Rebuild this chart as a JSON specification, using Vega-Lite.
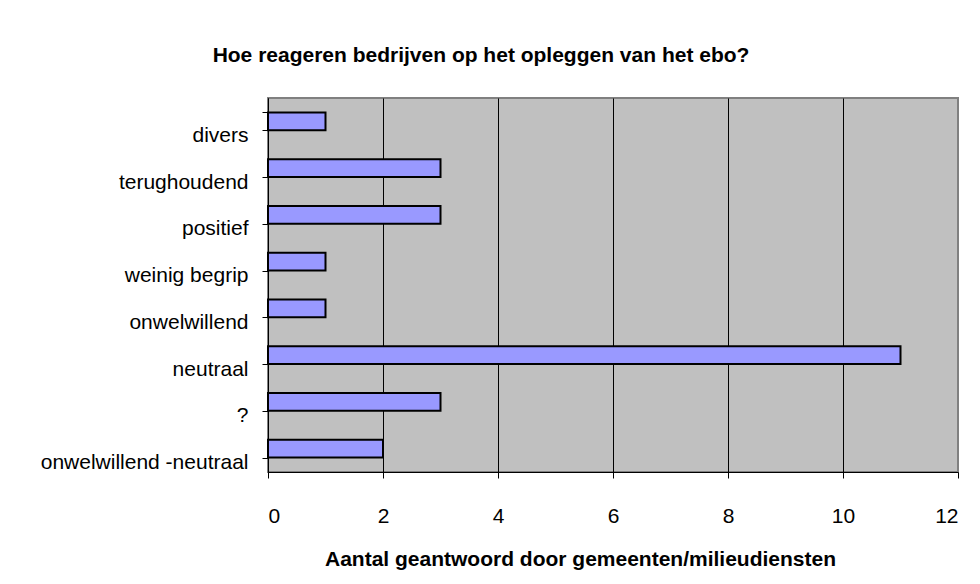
{
  "$schema": "https://vega.github.io/schema/vega-lite/v6.json",
  "autosize": "none",
  "width": 690,
  "height": 374,
  "padding": {"left": 268, "top": 98, "right": 22, "bottom": 112},
  "background": "white",
  "title": {
    "text": "Hoe reageren bedrijven op het opleggen van het ebo?",
    "font": "Liberation Sans",
    "fontSize": 21,
    "fontWeight": "bold",
    "color": "black",
    "anchor": "middle",
    "frame": "group",
    "dx": -132,
    "dy": 31,
    "baseline": "alphabetic",
    "offset": 35
  },
  "data": {
    "values": [
      {"reactie": "divers", "aantal": 1},
      {"reactie": "terughoudend", "aantal": 3},
      {"reactie": "positief", "aantal": 3},
      {"reactie": "weinig begrip", "aantal": 1},
      {"reactie": "onwelwillend", "aantal": 1},
      {"reactie": "neutraal", "aantal": 11},
      {"reactie": "?", "aantal": 3},
      {"reactie": "onwelwillend -neutraal", "aantal": 2}
    ]
  },
  "mark": {"type": "bar", "fill": "#9999FF", "stroke": "black", "strokeWidth": 2},
  "encoding": {
    "y": {
      "field": "reactie",
      "type": "nominal",
      "sort": null,
      "scale": {"paddingInner": 0.62, "paddingOuter": 0.31},
      "axis": {
        "title": null,
        "labelFont": "Liberation Sans",
        "labelFontSize": 21,
        "labelColor": "black",
        "labelOffset": 14,
        "labelPadding": 14,
        "labelLimit": 400,
        "tickBand": "extent",
        "tickSize": 6,
        "tickColor": "black",
        "domainColor": "black",
        "grid": false
      }
    },
    "x": {
      "field": "aantal",
      "type": "quantitative",
      "scale": {"domain": [0, 12], "nice": false},
      "axis": {
        "values": [0, 2, 4, 6, 8, 10, 12],
        "title": "Aantal geantwoord door gemeenten/milieudiensten",
        "titleFont": "Liberation Sans",
        "titleFontSize": 21,
        "titleFontWeight": "bold",
        "titleColor": "black",
        "titleX": 312,
        "titlePadding": 22,
        "labelFont": "Liberation Sans",
        "labelFontSize": 21,
        "labelColor": "black",
        "labelPadding": 27,
        "tickSize": 6,
        "tickColor": "black",
        "domainColor": "black",
        "grid": true,
        "gridColor": {"condition": {"test": "datum.value === 12", "value": "#808080"}, "value": "black"},
        "gridOpacity": 1,
        "gridWidth": 1
      }
    }
  },
  "config": {
    "view": {"fill": "#C0C0C0", "stroke": "#808080", "strokeWidth": 2}
  }
}
